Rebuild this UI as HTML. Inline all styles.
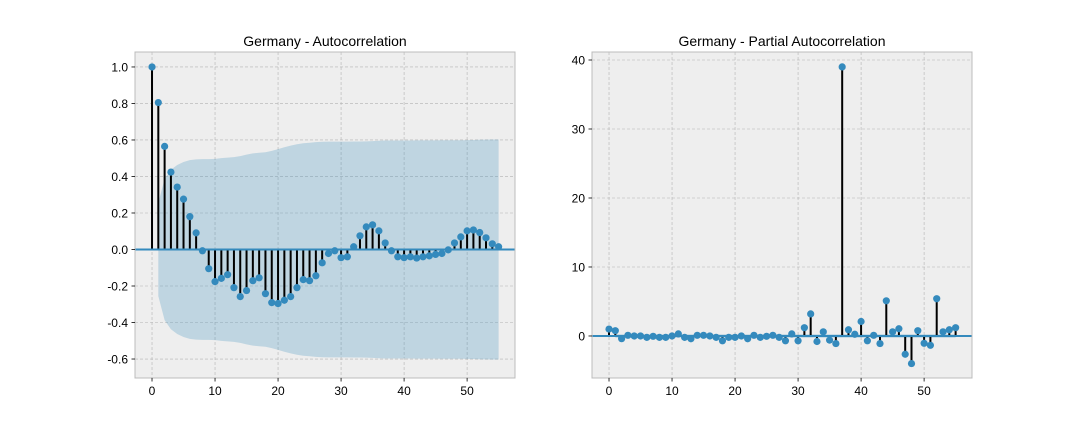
<!DOCTYPE html>
<html><head><meta charset="utf-8"><style>
body{margin:0;background:#fff;}
svg{display:block;font-family:"Liberation Sans","DejaVu Sans",sans-serif;}
</style></head><body>
<svg id="fig" width="1080" height="432" viewBox="0 0 1080 432"></svg>
<script>
const acfLags=[...Array(56).keys()];
const acfValues=[1.0,0.805,0.565,0.424,0.342,0.276,0.18,0.091,-0.007,-0.105,-0.176,-0.158,-0.138,-0.209,-0.258,-0.225,-0.171,-0.155,-0.242,-0.291,-0.296,-0.278,-0.258,-0.209,-0.165,-0.171,-0.144,-0.073,-0.022,-0.007,-0.045,-0.04,0.015,0.075,0.124,0.135,0.102,0.036,-0.007,-0.04,-0.045,-0.04,-0.047,-0.04,-0.035,-0.027,-0.022,-0.002,0.036,0.069,0.102,0.107,0.093,0.064,0.031,0.015];
const pacfValues=[1.0,0.77,-0.39,0.1,0,0,-0.2,-0.05,-0.2,-0.2,0,0.3,-0.2,-0.4,0.1,0.1,0,-0.2,-0.7,-0.2,-0.2,0,-0.4,0.1,-0.2,-0.05,0.1,-0.2,-0.7,0.3,-0.7,1.2,3.2,-0.8,0.6,-0.6,-1.1,39,0.9,0.25,2.1,-0.7,0.1,-1.1,5.1,0.6,1.05,-2.65,-4.0,0.77,-1.06,-1.35,5.4,0.6,0.9,1.2];
const nObs=59;
const acfTicksY=[-0.6,-0.4,-0.2,0.0,0.2,0.4,0.6,0.8,1.0];
const pacfTicksY=[0,10,20,30,40];
const ticksX=[0,10,20,30,40,50];

const NS="http://www.w3.org/2000/svg";
const svg=document.getElementById('fig');
function mk(tag,attrs,parent){const e=document.createElementNS(NS,tag);for(const k in attrs)e.setAttribute(k,attrs[k]);(parent||svg).appendChild(e);return e;}

function panel(opt){
  const g=mk('g',{});
  
  
  const {x0,x1,y0,y1,xmin,xmax,ymin,ymax}=opt;
  const sx=v=>x0+(v-xmin)/(xmax-xmin)*(x1-x0);
  const sy=v=>y1-(v-ymin)/(ymax-ymin)*(y1-y0);
  const bg=mk('rect',{x:x0,y:y0,width:x1-x0,height:y1-y0,fill:'#eeeeee'},g);
  
  
  ticksX.forEach(t=>{mk('line',{x1:sx(t),x2:sx(t),y1:y0,y2:y1,stroke:'#b2b2b2','stroke-width':0.6,'stroke-dasharray':'3,2'},g);});
  opt.ticksY.forEach(t=>{mk('line',{x1:x0,x2:x1,y1:sy(t),y2:sy(t),stroke:'#b2b2b2','stroke-width':0.6,'stroke-dasharray':'3,2'},g);});
  const lags=opt.lags;
  let up=[],lo=[];
  for(let k=1;k<lags.length;k++){
    let w;
    if(opt.bartlett){let s=1;for(let j=1;j<k;j++)s+=2*opt.values[j]*opt.values[j];w=1.96*Math.sqrt(s/nObs);}
    else w=1.96/Math.sqrt(nObs);
    up.push([sx(lags[k]),sy(w)]);lo.push([sx(lags[k]),sy(-w)]);
  }
  const pts=up.concat(lo.reverse()).map(p=>p.join(',')).join(' ');
  const band=mk('polygon',{points:pts,fill:'#348abd','fill-opacity':0.25},g);
  
  
  lags.forEach((l,i)=>{
    const s=mk('line',{x1:sx(l),x2:sx(l),y1:sy(0),y2:sy(opt.values[i]),stroke:'#000','stroke-width':2},g);
    
    
  });
  const zl=mk('line',{x1:x0,x2:x1,y1:sy(0),y2:sy(0),stroke:'#348abd','stroke-width':2},g);
  
  
  lags.forEach((l,i)=>{
    const c=mk('circle',{cx:sx(l),cy:sy(opt.values[i]),r:3.6,fill:'#348abd'},g);
    
    
  });
  const fr=mk('rect',{x:x0,y:y0,width:x1-x0,height:y1-y0,fill:'none',stroke:'#bcbcbc','stroke-width':1},g);
  
  
  ticksX.forEach(t=>{
    mk('line',{x1:sx(t),x2:sx(t),y1:y1,y2:y1+3.5,stroke:'#000','stroke-width':0.8},g);
    const tx=mk('text',{x:sx(t),y:y1+17,'text-anchor':'middle','font-size':12,fill:'#000'},g);
    tx.textContent=t;
    
    
  });
  opt.ticksY.forEach(t=>{
    mk('line',{x1:x0-3.5,x2:x0,y1:sy(t),y2:sy(t),stroke:'#000','stroke-width':0.8},g);
    const tx=mk('text',{x:x0-7,y:sy(t)+4.3,'text-anchor':'end','font-size':12,fill:'#000'},g);
    tx.textContent=opt.fmt(t);
    
    
  });
  const ti=mk('text',{x:(x0+x1)/2,y:y0-6,'text-anchor':'middle','font-size':14,fill:'#000'},g);
  ti.textContent=opt.title;
  
  
}
panel({name:'acf-panel',x0:135,x1:515,y0:52,y1:378,xmin:-2.7,xmax:57.6,ymin:-0.704,ymax:1.082,
  ticksY:acfTicksY,lags:acfLags,values:acfValues,bartlett:true,fmt:t=>t.toFixed(1),title:'Germany - Autocorrelation'});
panel({name:'pacf-panel',x0:592,x1:972,y0:52,y1:378,xmin:-2.7,xmax:57.6,ymin:-6.09,ymax:41.16,
  ticksY:pacfTicksY,lags:acfLags,values:pacfValues,bartlett:false,fmt:t=>String(t),title:'Germany - Partial Autocorrelation'});
</script>
</body></html>
